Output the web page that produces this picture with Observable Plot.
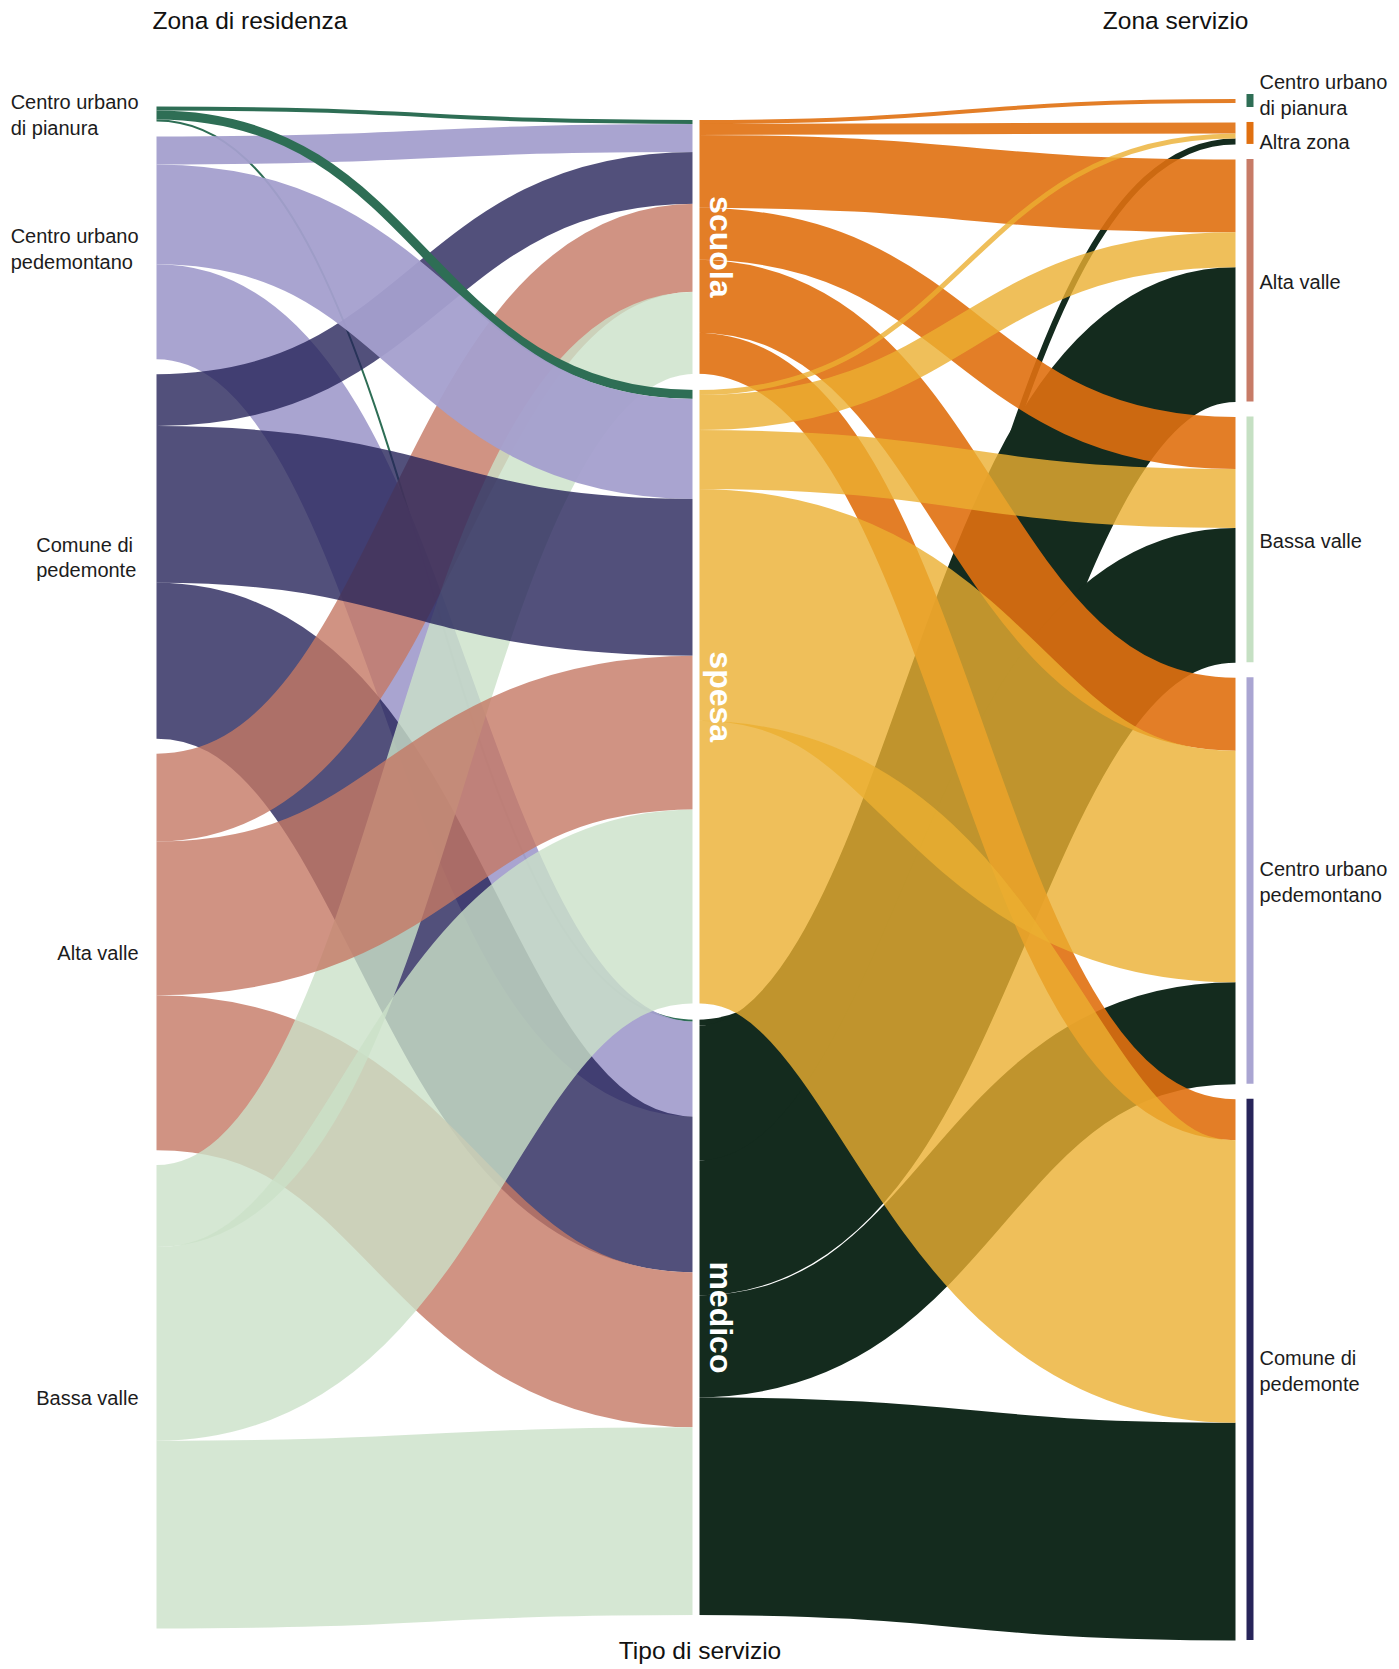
<!DOCTYPE html>
<html>
<head>
<meta charset="utf-8">
<script src="https://cdn.jsdelivr.net/npm/d3@7"></script>
<script src="https://cdn.jsdelivr.net/npm/@observablehq/plot@0.6"></script>
<style>
  html, body { margin: 0; padding: 0; background: #fff; }
  #chart svg { display: block; }
</style>
</head>
<body>
<div id="chart"></div>
<script>
// ---------------- DATA ----------------
const residenza = ["Centro urbano di pianura", "Centro urbano pedemontano", "Comune di pedemonte", "Alta valle", "Bassa valle"];
const residenzaEtichette = ["Centro urbano\ndi pianura", "Centro urbano\npedemontano", "Comune di \npedemonte", "Alta valle", "Bassa valle"];
const residenzaColori = ["#2e6e55", "#a49fcd", "#27245a", "#c47864", "#cae1c8"];
const residenzaOpacita = [1, 0.95, 0.8, 0.8, 0.8];

const servizi = ["scuola", "spesa", "medico"];
const serviziColori = ["#e07010", "#ebaf31", "#142b1e"];
const serviziOpacita = [0.9, 0.8, 1];

const zoneServizio = ["Centro urbano di pianura", "Altra zona", "Alta valle", "Bassa valle", "Centro urbano pedemontano", "Comune di pedemonte"];
const zoneEtichette = ["Centro urbano\ndi pianura", "Altra zona", "Alta valle", "Bassa valle", "Centro urbano\npedemontano", "Comune di\npedemonte"];
const zoneColori = ["#2e6e55", "#e07010", "#c77b67", "#c5e0c3", "#aaa5d2", "#28245a"];

// residenza -> tipo di servizio (one value per zona di residenza)
const scuolaDaResidenza = [4, 28, 52, 88, 82];
const spesaDaResidenza  = [9, 100, 157, 154, 194];
const medicoDaResidenza = [2, 95, 156, 155, 188];

// tipo di servizio -> zona servizio (one value per zona servizio)
const scuolaVersoZona = [4, 11, 73, 52, 73, 41];
const spesaVersoZona  = [0, 5, 35, 59, 232, 283];
const medicoVersoZona = [0, 6, 135, 135, 102, 218];

// ---------------- LAYOUT ----------------
const W = 1399, H = 1669;
const marginLeft = 156, marginRight = 164, marginTop = 94, marginBottom = 29;
const PAD = [15, 16.5, 15];
const MIN_BAR = 13;
const FONT = '"Liberation Sans", Arial, sans-serif';
const FS = 20;
const LH = 1.28;

const daResidenza = [scuolaDaResidenza, spesaDaResidenza, medicoDaResidenza];
const versoZona = [scuolaVersoZona, spesaVersoZona, medicoVersoZona];

function stack(heights, pad) {
  const total = d3.sum(heights) + pad * (heights.length - 1);
  let y = -total / 2;
  const out = heights.map(h => { const n = {y0: y, y1: y + h}; y += h + pad; return n; });
  return {nodes: out, total};
}

const leftVals = residenza.map((_, i) => d3.sum(daResidenza, s => s[i]));
const midIn = daResidenza.map(s => d3.sum(s));
const midOut = versoZona.map(s => d3.sum(s));
const midVals = servizi.map((_, j) => Math.max(midIn[j], midOut[j]));
const rightVals = zoneServizio.map((_, k) => d3.sum(versoZona, s => s[k]));

const L = stack(leftVals, PAD[0]);
const M = stack(midVals, PAD[1]);
const R = stack(rightVals.map(v => Math.max(v, MIN_BAR)), PAD[2]);
const span = Math.max(L.total, M.total, R.total);
const kpx = (H - marginTop - marginBottom) / span;

const leftNodes = L.nodes.map((n, i) => ({...n, name: residenza[i], label: residenzaEtichette[i]}));
const midNodes = M.nodes.map((n, j) => ({...n, name: servizi[j]}));
const rightNodes = R.nodes.map((n, k) => ({...n, name: zoneServizio[k], label: zoneEtichette[k], color: zoneColori[k], value: rightVals[k]}));

const drawOrder = servizi.slice().sort(d3.ascending); // medico, scuola, spesa

// left links
const links = [];
const midInCursor = midNodes.map(n => n.y0);
const leftCursor = leftNodes.map(n => n.y0);
residenza.forEach((_, i) => {
  servizi.forEach((_, j) => {
    const v = daResidenza[j][i];
    if (!v) return;
    const sy = leftCursor[i] + v / 2; leftCursor[i] += v;
    links.push({side: 0, src: i, tgt: j, v, x1: 0, x2: 1, sy, color: residenzaColori[i], op: residenzaOpacita[i]});
  });
});
servizi.forEach((_, j) => {
  residenza.forEach((_, i) => {
    const l = links.find(d => d.side === 0 && d.src === i && d.tgt === j);
    if (!l) return;
    l.ty = midInCursor[j] + l.v / 2; midInCursor[j] += l.v;
  });
});
// right links
const midOutCursor = midNodes.map(n => n.y0);
const rightCursor = rightNodes.map(n => n.y0 + (n.y1 - n.y0 - n.value) / 2);
servizi.forEach((_, j) => {
  zoneServizio.forEach((_, k) => {
    const v = versoZona[j][k];
    if (!v) return;
    const sy = midOutCursor[j] + v / 2; midOutCursor[j] += v;
    links.push({side: 1, src: j, tgt: k, v, x1: 1, x2: 2, sy, color: serviziColori[j], op: serviziOpacita[j]});
  });
});
zoneServizio.forEach((_, k) => {
  servizi.forEach((_, j) => {
    const l = links.find(d => d.side === 1 && d.src === j && d.tgt === k);
    if (!l) return;
    l.ty = rightCursor[k] + l.v / 2; rightCursor[k] += l.v;
  });
});
links.forEach(l => { l.w = l.v * kpx; });
const rank = name => drawOrder.indexOf(name);
links.sort((a, b) =>
  a.side - b.side ||
  (a.side === 0 ? rank(servizi[a.tgt]) - rank(servizi[b.tgt]) || a.src - b.src
                : rank(servizi[a.src]) - rank(servizi[b.src]) || a.tgt - b.tgt));

// label measurement
const ctx = document.createElement("canvas").getContext("2d");
ctx.font = `${FS}px ${FONT}`;
leftNodes.forEach(n => {
  n.cy = (n.y0 + n.y1) / 2;
  n.w = d3.max(n.label.split("\n"), s => ctx.measureText(s).width);
});
midNodes.forEach(n => { n.cy = (n.y0 + n.y1) / 2; });

// right label de-overlap
rightNodes.forEach(n => {
  n.cy = (n.y0 + n.y1) / 2;
  n.h = n.label.split("\n").length * FS * LH / kpx;
});
for (let it = 0; it < 100; it++) {
  for (let k = 1; k < rightNodes.length; k++) {
    const a = rightNodes[k - 1], b = rightNodes[k];
    const need = a.h / 2 + b.h / 2 + 8;
    const gap = b.cy - a.cy;
    if (gap < need) { const d = (need - gap) / 2; a.cy -= d; b.cy += d; }
  }
}

// ---------------- PLOT ----------------
const textStyle = {fontSize: FS, fill: "#1c1c1c", lineHeight: LH};
const titleStyle = {fontSize: 24.5, fill: "#111", lineAnchor: "middle"};

const marks = [
  Plot.link(links, {
    x1: "x1", x2: "x2", y1: "sy", y2: "ty",
    stroke: "color", strokeOpacity: "op", strokeWidth: "w",
    curve: "bump-x"
  }),
  Plot.ruleX([1], {stroke: "white", strokeWidth: 7}),
  Plot.ruleX(rightNodes, {x: () => 2, y1: "y0", y2: "y1", stroke: "color", strokeWidth: 7, dx: 14.5}),
  Plot.text(midNodes, {
    x: () => 1, y: "cy", text: "name", rotate: 90, dx: 24,
    fill: "white", fontWeight: "bold", fontSize: 32
  }),
  Plot.text(rightNodes, {x: () => 2, y: "cy", text: "label", textAnchor: "start", dx: 24, ...textStyle}),
  ...leftNodes.map(n => Plot.text([n], {
    x: () => 0, y: "cy", text: "label", textAnchor: "start", dx: -18 - n.w, ...textStyle
  })),
  Plot.text(["Zona di residenza"], {x: () => 0, frameAnchor: "top", textAnchor: "start", dx: -4, dy: -73, ...titleStyle}),
  Plot.text(["Zona servizio"], {x: () => 2, frameAnchor: "top", textAnchor: "end", dx: 13, dy: -73, ...titleStyle}),
  Plot.text(["Tipo di servizio"], {x: () => 1, frameAnchor: "bottom", textAnchor: "middle", dx: 4, dy: 11, ...titleStyle})
];

const chart = Plot.plot({
  width: W, height: H,
  marginLeft, marginRight, marginTop, marginBottom,
  x: {domain: [0, 2], axis: null},
  y: {domain: [-span / 2, span / 2], reverse: true, axis: null},
  color: {type: "identity"},
  opacity: {type: "identity"},
  style: {fontFamily: FONT, background: "white", overflow: "visible"},
  marks
});
document.getElementById("chart").appendChild(chart);
</script>
</body>
</html>
